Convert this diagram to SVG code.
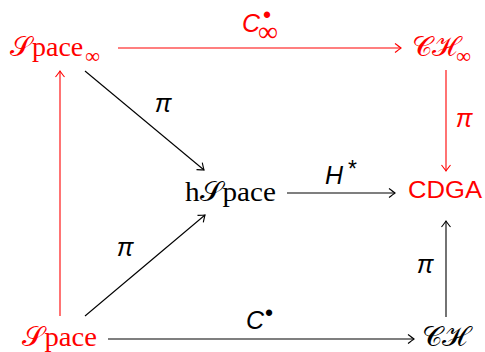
<svg xmlns="http://www.w3.org/2000/svg" width="485" height="352" viewBox="0 0 485 352">
<style>
.m{font-family:"Liberation Serif","DejaVu Serif",serif;font-size:28px}
.sub{font-size:21px}
.l{font-family:"Liberation Sans","DejaVu Sans",sans-serif;font-style:italic;font-size:25px}
.b{font-family:"Liberation Sans","DejaVu Sans",sans-serif;font-style:normal;font-size:23px}
.sf{font-family:"Liberation Sans","DejaVu Sans",sans-serif;font-size:23px}
.r{fill:#ff0000}
.k{fill:#000000}
.e{fill:none;stroke-width:1.1}
.er{stroke:#ff0000;marker-end:url(#ar)}
.ek{stroke:#000000;marker-end:url(#ak)}
</style>
<defs>
<marker id="ak" markerWidth="10" markerHeight="12" refX="0" refY="0" viewBox="-8 -6 10 12" orient="auto" markerUnits="userSpaceOnUse">
<path d="M-6,-4.5 Q-1.5,-1 0,0 Q-1.5,1 -6,4.5" fill="none" stroke="#000000" stroke-width="1.1"/>
</marker>
<marker id="ar" markerWidth="10" markerHeight="12" refX="0" refY="0" viewBox="-8 -6 10 12" orient="auto" markerUnits="userSpaceOnUse">
<path d="M-6,-4.5 Q-1.5,-1 0,0 Q-1.5,1 -6,4.5" fill="none" stroke="#ff0000" stroke-width="1.1"/>
</marker>
</defs>
<g id="connectors">
<path class="e er" d="M118,48 H401"/>
<path class="e er" d="M446,70 V171"/>
<path class="e er" d="M60,316 V71"/>
<path class="e ek" d="M85,71 L204,170"/>
<path class="e ek" d="M85,316 L205,215"/>
<path class="e ek" d="M287,193 H395"/>
<path class="e ek" d="M108,339 H414"/>
<path class="e ek" d="M446,317 V221"/>
<g id="labels">
<text class="l r" x="242" y="32">C</text>
<text class="b r" x="263" y="23">•</text>
<text class="m r" x="258" y="41" font-size="25">∞</text>
<text class="l k" x="163" y="112" text-anchor="middle">π</text>
<text class="l k" x="125" y="256" text-anchor="middle">π</text>
<text class="l r" x="464" y="127" text-anchor="middle">π</text>
<text class="l k" x="425" y="273" text-anchor="middle">π</text>
<text class="l k" x="325" y="184" font-size="27">H</text>
<text class="sf k" x="348" y="177" font-size="19">*</text>
<text class="l k" x="246" y="329">C</text>
<text class="b k" x="265" y="321">•</text>
</g>
</g>
<g id="n-spaceinf"><text class="m r" x="10" y="56">𝒮pace</text><text class="m sub r" x="85" y="63">∞</text></g>
<g id="n-chinf"><text class="m r" x="412" y="56">𝒞ℋ</text><text class="m sub r" x="456" y="63">∞</text></g>
<g id="n-hspace"><text class="m k" x="185" y="201" textLength="91" lengthAdjust="spacingAndGlyphs">h𝒮pace</text></g>
<g id="n-cdga"><text class="sf r" x="408" y="198" textLength="74" lengthAdjust="spacingAndGlyphs">CDGA</text></g>
<g id="n-space"><text class="m r" x="22" y="346" textLength="75" lengthAdjust="spacingAndGlyphs">𝒮pace</text></g>
<g id="n-ch"><text class="m k" x="422" y="346">𝒞ℋ</text></g>
</svg>
